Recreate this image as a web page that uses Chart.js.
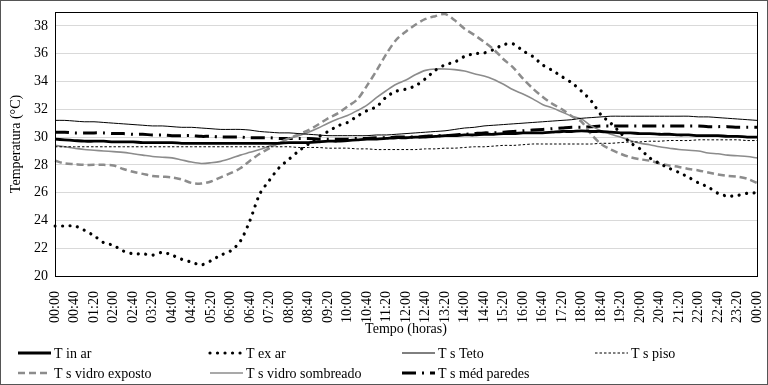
<!DOCTYPE html>
<html>
<head>
<meta charset="utf-8">
<script src="https://cdn.jsdelivr.net/npm/chart.js@4.4.0/dist/chart.umd.min.js"></script>
<style>
  body { margin: 0; background: #fff; }
  #caixa { width: 768px; height: 385px; }
</style>
</head>
<body>
<div id="caixa"><canvas id="graficoTemperaturas" width="768" height="385"></canvas></div>
<script>
// Horários (a cada 20 min)
const horas = [
  '00:00','00:20','00:40','01:00','01:20','01:40','02:00','02:20','02:40','03:00','03:20','03:40',
  '04:00','04:20','04:40','05:00','05:20','05:40','06:00','06:20','06:40','07:00','07:20','07:40',
  '08:00','08:20','08:40','09:00','09:20','09:40','10:00','10:20','10:40','11:00','11:20','11:40',
  '12:00','12:20','12:40','13:00','13:20','13:40','14:00','14:20','14:40','15:00','15:20','15:40',
  '16:00','16:20','16:40','17:00','17:20','17:40','18:00','18:20','18:40','19:00','19:20','19:40',
  '20:00','20:20','20:40','21:00','21:20','21:40','22:00','22:20','22:40','23:00','23:20','23:40',
  '00:00'
];

const tInAr = [
  29.85, 29.8, 29.75, 29.7, 29.7, 29.7, 29.65, 29.65, 29.65, 29.6, 29.6, 29.6,
  29.6, 29.55, 29.55, 29.55, 29.55, 29.55, 29.55, 29.55, 29.55, 29.55, 29.55, 29.55,
  29.6, 29.6, 29.6, 29.65, 29.7, 29.7, 29.75, 29.8, 29.85, 29.85, 29.9, 29.95,
  29.95, 30.0, 30.0, 30.05, 30.1, 30.1, 30.15, 30.15, 30.2, 30.2, 30.25, 30.25,
  30.3, 30.3, 30.3, 30.35, 30.4, 30.4, 30.45, 30.4, 30.4, 30.35, 30.3, 30.3,
  30.25, 30.25, 30.2, 30.2, 30.15, 30.15, 30.1, 30.1, 30.1, 30.05, 30.05, 30.0,
  30.0
];

const tExAr = [
  23.6, 23.6, 23.6, 23.3, 22.9, 22.4, 22.2, 21.8, 21.6, 21.6, 21.5, 21.7,
  21.5, 21.2, 21.0, 20.8, 21.1, 21.5, 21.8, 22.5, 24.0, 25.9, 26.9, 27.8,
  28.4, 29.0, 29.5, 30.0, 30.4, 30.8, 31.05, 31.5, 31.9, 32.2, 32.9, 33.3,
  33.45, 33.7, 34.2, 34.8, 35.2, 35.4, 35.8, 36.0, 36.05, 36.3, 36.65, 36.7,
  36.2, 35.8, 35.2, 34.8, 34.35, 33.9, 33.3, 32.6, 31.6, 31.0, 30.3, 29.6,
  29.15, 28.5, 28.1, 27.75, 27.45, 27.1, 26.7, 26.4, 25.95, 25.75, 25.8, 25.95,
  26.0
];

const tsTeto = [
  31.2, 31.2, 31.15, 31.1, 31.1, 31.05, 31.0, 30.95, 30.9, 30.85, 30.8, 30.8,
  30.75, 30.7, 30.7, 30.65, 30.6, 30.55, 30.55, 30.55, 30.5, 30.4, 30.35, 30.3,
  30.3, 30.25, 30.2, 30.15, 30.1, 30.1, 30.1, 30.1, 30.1, 30.15, 30.15, 30.2,
  30.25, 30.3, 30.35, 30.4, 30.45, 30.55, 30.65, 30.7, 30.8, 30.85, 30.9, 30.95,
  31.0, 31.05, 31.1, 31.15, 31.2, 31.25, 31.35, 31.4, 31.45, 31.5, 31.5, 31.5,
  31.5, 31.5, 31.5, 31.5, 31.5, 31.5, 31.45, 31.45, 31.4, 31.35, 31.3, 31.25,
  31.2
];

const tsPiso = [
  29.3, 29.3, 29.3, 29.3, 29.3, 29.3, 29.3, 29.3, 29.3, 29.3, 29.3, 29.3,
  29.3, 29.3, 29.3, 29.3, 29.3, 29.3, 29.3, 29.3, 29.3, 29.3, 29.3, 29.3,
  29.3, 29.25, 29.25, 29.25, 29.2, 29.2, 29.2, 29.15, 29.15, 29.1, 29.1, 29.1,
  29.1, 29.1, 29.15, 29.15, 29.2, 29.2, 29.25, 29.3, 29.3, 29.35, 29.4, 29.4,
  29.45, 29.5, 29.5, 29.5, 29.5, 29.5, 29.5, 29.5, 29.55, 29.55, 29.6, 29.65,
  29.65, 29.7, 29.7, 29.75, 29.75, 29.75, 29.8, 29.8, 29.8, 29.8, 29.8, 29.75,
  29.75
];

const tsVidroExposto = [
  28.3, 28.1, 28.05, 28.0, 28.0, 28.0, 27.95, 27.7, 27.5, 27.35, 27.2, 27.15,
  27.1, 26.95, 26.7, 26.65, 26.8, 27.1, 27.4, 27.75, 28.3, 28.8, 29.2, 29.6,
  29.9, 30.2, 30.5, 30.9, 31.35, 31.7, 32.2, 32.7, 33.7, 34.8, 36.0, 37.0,
  37.6, 38.1, 38.5, 38.7, 38.85, 38.4, 37.8, 37.35, 36.85, 36.3, 35.6, 35.0,
  34.2, 33.5, 32.9, 32.4, 32.0, 31.5, 31.1, 30.2, 29.5, 29.1, 28.8, 28.55,
  28.4, 28.3, 28.1, 27.95, 27.85, 27.7, 27.6, 27.45, 27.3, 27.2, 27.15, 27.0,
  26.7
];

const tsVidroSombreado = [
  29.4, 29.3, 29.2, 29.1, 29.05, 29.0, 28.95, 28.9, 28.8, 28.7, 28.6, 28.55,
  28.5, 28.35, 28.2, 28.1, 28.15, 28.25, 28.45, 28.7, 28.9, 29.1, 29.35, 29.6,
  29.9, 30.1, 30.35, 30.65, 31.0, 31.3, 31.55, 31.9, 32.3, 32.85, 33.35, 33.8,
  34.1, 34.5, 34.8, 34.9, 34.9, 34.85, 34.75, 34.55, 34.4, 34.15, 33.8, 33.4,
  33.1, 32.75, 32.35, 32.1, 31.8, 31.5, 31.3, 30.8, 30.45, 30.2, 30.0, 29.75,
  29.55, 29.45, 29.3, 29.2, 29.1, 29.05, 29.0, 28.85, 28.8, 28.7, 28.65, 28.6,
  28.5
];

const tsMedParedes = [
  30.35, 30.35, 30.3, 30.3, 30.3, 30.3, 30.25, 30.25, 30.2, 30.2, 30.15, 30.15,
  30.1, 30.1, 30.1, 30.05, 30.05, 30.0, 30.0, 30.0, 29.95, 29.95, 29.95, 29.9,
  29.9, 29.9, 29.9, 29.85, 29.85, 29.85, 29.85, 29.9, 29.9, 29.95, 29.95, 30.0,
  30.0, 30.0, 30.05, 30.1, 30.1, 30.15, 30.2, 30.25, 30.3, 30.3, 30.35, 30.4,
  30.45, 30.5, 30.55, 30.6, 30.65, 30.7, 30.7, 30.75, 30.8, 30.8, 30.8, 30.8,
  30.8, 30.8, 30.8, 30.8, 30.8, 30.8, 30.8, 30.75, 30.75, 30.75, 30.7, 30.7,
  30.7
];

const fonte = "'Liberation Serif', 'Times New Roman', serif";
const cinza = '#8c8c8c';

// moldura externa + borda da área do gráfico
const bordas = {
  id: 'bordas',
  afterDraw(chart) {
    const c = chart.ctx, a = chart.chartArea;
    c.save();
    c.strokeStyle = '#000';
    c.lineWidth = 1;
    c.strokeRect(a.left + 0.5, a.top + 0.5, a.right - a.left, a.bottom - a.top);
    c.strokeStyle = '#555';
    c.strokeRect(0.5, 0.5, chart.width - 1, chart.height - 1);
    c.restore();
  }
};

// legenda em colunas fixas, como no original
const legenda = {
  id: 'legenda',
  afterDraw(chart) {
    const c = chart.ctx;
    const colunas = [18, 210, 402, 595];
    const linhas = [353, 373];
    c.save();
    c.font = '14px ' + fonte;
    c.fillStyle = '#000';
    c.textBaseline = 'middle';
    chart.data.datasets.forEach((ds, i) => {
      const x = colunas[i % 4], y = linhas[Math.floor(i / 4)];
      c.beginPath();
      c.strokeStyle = ds.borderColor;
      c.lineWidth = ds.borderWidth;
      c.lineCap = ds.borderCapStyle || 'butt';
      c.setLineDash(ds.borderDash || []);
      c.moveTo(x, y);
      c.lineTo(x + 33, y);
      c.stroke();
      c.setLineDash([]);
      c.fillText(ds.label, x + 36, y + 1);
    });
    c.restore();
  }
};

document.addEventListener('DOMContentLoaded', function() {
  const ctx = document.getElementById('graficoTemperaturas').getContext('2d');
  new Chart(ctx, {
    type: 'line',
    data: {
      labels: horas,
      datasets: [
        { label: 'T in ar', data: tInAr, borderColor: '#000', borderWidth: 2.8 },
        { label: 'T ex ar', data: tExAr, borderColor: '#000', borderWidth: 3.2, borderDash: [0.01, 7.5], borderCapStyle: 'round' },
        { label: 'T s Teto', data: tsTeto, borderColor: '#000', borderWidth: 1 },
        { label: 'T s piso', data: tsPiso, borderColor: '#000', borderWidth: 1, borderDash: [2.5, 2] },
        { label: 'T s vidro exposto', data: tsVidroExposto, borderColor: cinza, borderWidth: 2.5, borderDash: [7, 4] },
        { label: 'T s vidro sombreado', data: tsVidroSombreado, borderColor: cinza, borderWidth: 1.6 },
        { label: 'T s méd paredes', data: tsMedParedes, borderColor: '#000', borderWidth: 3, borderDash: [14, 6, 2, 6] }
      ]
    },
    options: {
      responsive: false,
      animation: false,
      elements: { point: { radius: 0 }, line: { tension: 0.3, fill: false } },
      layout: { padding: { top: 12, right: 11, bottom: 47, left: 0 } },
      plugins: { legend: { display: false }, tooltip: { enabled: false } },
      scales: {
        x: {
          offset: false,
          grid: { display: false },
          border: { display: false },
          ticks: {
            autoSkip: false, maxRotation: 90, minRotation: 90, padding: 7,
            color: '#000', font: { family: fonte, size: 14 },
            callback: (v, i) => (i % 2 === 0 ? horas[i] : '')
          },
          title: { display: true, text: 'Tempo (horas)', color: '#000', font: { family: fonte, size: 14 }, padding: { top: 0, bottom: 0 } },
          afterFit: (s) => { s.height = 62; s.paddingLeft = 0; s.paddingRight = 0; }
        },
        y: {
          min: 20, max: 39,
          grid: { color: '#d9d9d9', drawTicks: false },
          border: { display: false },
          ticks: { stepSize: 2, includeBounds: false, padding: 7, color: '#000', font: { family: fonte, size: 14 } },
          afterBuildTicks: (s) => { s.ticks = s.ticks.filter(t => t.value % 2 === 0); },
          title: { display: true, text: 'Temperatura (°C)', color: '#000', font: { family: fonte, size: 14 }, padding: { top: 8, bottom: 0 } },
          afterFit: (s) => { s.width = 55; s.paddingTop = 0; s.paddingBottom = 0; }
        }
      }
    },
    plugins: [bordas, legenda]
  });
});
</script>
</body>
</html>
